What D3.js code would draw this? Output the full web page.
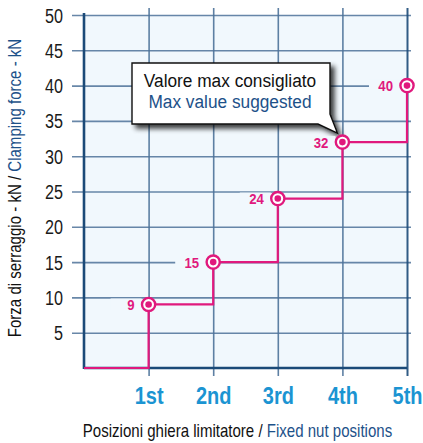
<!DOCTYPE html>
<html>
<head>
<meta charset="utf-8">
<script src="https://cdn.jsdelivr.net/npm/d3@7"></script>
<style>
  html, body { margin: 0; padding: 0; background: #fff; }
  svg { display: block; }
  text { font-family: "Liberation Sans", Arial, sans-serif; }
</style>
</head>
<body>
<svg id="chart" width="423" height="443"></svg>
<script>
// Clamping force per fixed nut position (kN)
const positions = [1, 2, 3, 4, 5];
const positionLabels = ["1st", "2nd", "3rd", "4th", "5th"];
const forces = [9, 15, 24, 32, 40];
const yTicks = [5, 10, 15, 20, 25, 30, 35, 40, 45, 50];

const svg = d3.select("#chart");
const plotLeft = 84, plotRight = 407, plotTop = 15, plotBottom = 368;

const x = d3.scaleLinear().domain([0, 5]).range([plotLeft, plotRight]);
const y = d3.scaleLinear().domain([0, 50]).range([plotBottom, plotTop]);

const magenta = "#e0197d";
const axisBlue = "#1b4a78";
const gridBlue = "#4d7299";
const labelBlue = "#1b94d2";
const titleBlue = "#1d5189";
const plotBg = "#f1f8fd";

// condensed look: squeeze text horizontally around its anchor point
function squeeze(sel, tx, ty, k) {
  sel.attr("x", 0).attr("y", 0)
    .attr("transform", `translate(${tx},${ty}) scale(${k},1)`);
}

// plot background
svg.append("rect")
  .attr("x", x(0)).attr("y", y(50))
  .attr("width", x(5) - x(0)).attr("height", y(0) - y(50))
  .attr("fill", plotBg);

// horizontal grid + left ticks
const yAxis = d3.axisLeft(y).tickValues(yTicks).tickSize(0).tickPadding(0);
const yg = svg.append("g").attr("transform", `translate(${plotLeft},0)`).call(yAxis);
yg.select(".domain").remove();
yg.selectAll(".tick line")
  .attr("x1", -12).attr("x2", x(5) - plotLeft + 4)
  .attr("stroke", gridBlue).attr("stroke-width", 1.6).attr("stroke-opacity", 0.85);
yg.selectAll(".tick text")
  .attr("dy", "0.36em")
  .attr("fill", "#1a1a1a").attr("font-size", 19.5)
  .call(squeeze, -21, 0, 0.83);

// vertical grid + bottom ticks
const xAxis = d3.axisBottom(x).tickValues(positions)
  .tickFormat((d, i) => positionLabels[i]).tickSize(0);
const xg = svg.append("g").attr("transform", `translate(0,${plotBottom})`).call(xAxis);
xg.select(".domain").remove();
xg.selectAll(".tick line")
  .attr("y1", 8).attr("y2", y(50) - plotBottom - 7)
  .attr("stroke", (d) => d === 5 ? axisBlue : gridBlue)
  .attr("stroke-width", (d) => d === 5 ? 2 : 1.6)
  .attr("stroke-opacity", 0.9);
xg.selectAll(".tick text")
  .attr("dy", 0)
  .attr("fill", labelBlue).attr("font-size", 23.5).attr("font-weight", "bold")
  .call(squeeze, 0, 36, 0.85);

// main axes
svg.append("line")
  .attr("x1", x(0)).attr("x2", x(0)).attr("y1", y(50) - 2).attr("y2", y(0) + 1)
  .attr("stroke", axisBlue).attr("stroke-width", 2.6);
svg.append("line")
  .attr("x1", x(0)).attr("x2", x(5)).attr("y1", y(0)).attr("y2", y(0))
  .attr("stroke", axisBlue).attr("stroke-width", 2.6);

// stepped force curve, starting from zero at the origin
const stepPts = [[0, 0]].concat(positions.map((p, i) => [p, forces[i]]));
const line = d3.line().x(d => x(d[0])).y(d => y(d[1])).curve(d3.curveStepAfter);
svg.append("path")
  .datum(stepPts)
  .attr("d", line)
  .attr("fill", "none")
  .attr("stroke", magenta).attr("stroke-width", 2.2);

// callout with drop shadow
const defs = svg.append("defs");
const f = defs.append("filter").attr("id", "shadow")
  .attr("x", "-20%").attr("y", "-20%").attr("width", "150%").attr("height", "160%");
f.append("feGaussianBlur").attr("in", "SourceAlpha").attr("stdDeviation", 2.5);
f.append("feOffset").attr("dx", 4).attr("dy", 4).attr("result", "ob");
f.append("feComponentTransfer").append("feFuncA").attr("type", "linear").attr("slope", 0.75);
const fm = f.append("feMerge");
fm.append("feMergeNode");
fm.append("feMergeNode").attr("in", "SourceGraphic");

const bx0 = 132, bx1 = 330, by0 = 63, by1 = 124;
const tip = [x(4) - 5, y(32) - 9];
const callout = d3.path();
callout.moveTo(bx0, by0);
callout.lineTo(bx1, by0);
callout.lineTo(bx1, by1 - 10);
callout.lineTo(tip[0], tip[1]);
callout.lineTo(bx1 - 12, by1);
callout.lineTo(bx0, by1);
callout.closePath();
svg.append("path")
  .attr("d", callout.toString())
  .attr("fill", "#fff").attr("stroke", "#111").attr("stroke-width", 1.4)
  .attr("filter", "url(#shadow)");
svg.append("text")
  .attr("text-anchor", "middle").attr("font-size", 18).attr("fill", "#111")
  .text("Valore max consigliato")
  .call(squeeze, (bx0 + bx1) / 2 - 1, 87, 0.96);
svg.append("text")
  .attr("text-anchor", "middle").attr("font-size", 18).attr("fill", titleBlue)
  .text("Max value suggested")
  .call(squeeze, (bx0 + bx1) / 2 - 1, 108, 0.96);

// value labels with a background patch over the grid
const pts = svg.append("g").selectAll("g").data(positions).join("g")
  .attr("transform", (d, i) => `translate(${x(d)},${y(forces[i])})`);
pts.append("rect")
  .attr("x", -38).attr("y", -6).attr("width", 31).attr("height", 12)
  .attr("fill", plotBg);
pts.append("text")
  .attr("dy", "0.36em")
  .attr("text-anchor", "end").attr("font-size", 15.5).attr("font-weight", "bold")
  .attr("fill", magenta)
  .text((d, i) => forces[i])
  .call(squeeze, -14, 0, 0.85);
pts.append("circle").attr("r", 6.6)
  .attr("fill", "#fff").attr("stroke", magenta).attr("stroke-width", 2.4);
pts.append("circle").attr("r", 3.3).attr("fill", magenta);

// axis titles
const yt = svg.append("text")
  .attr("transform", `translate(21,${(10 + 366) / 2}) rotate(-90) scale(0.86,1)`)
  .attr("text-anchor", "middle").attr("font-size", 17.5);
yt.append("tspan").attr("fill", "#111").text("Forza di serraggio - kN / ");
yt.append("tspan").attr("fill", titleBlue).text("Clamping force - kN");

const xt = svg.append("text")
  .attr("transform", `translate(${(82 + 393) / 2},437) scale(0.86,1)`)
  .attr("text-anchor", "middle").attr("font-size", 17.5);
xt.append("tspan").attr("fill", "#111").text("Posizioni ghiera limitatore / ");
xt.append("tspan").attr("fill", titleBlue).text("Fixed nut positions");
</script>
</body>
</html>
